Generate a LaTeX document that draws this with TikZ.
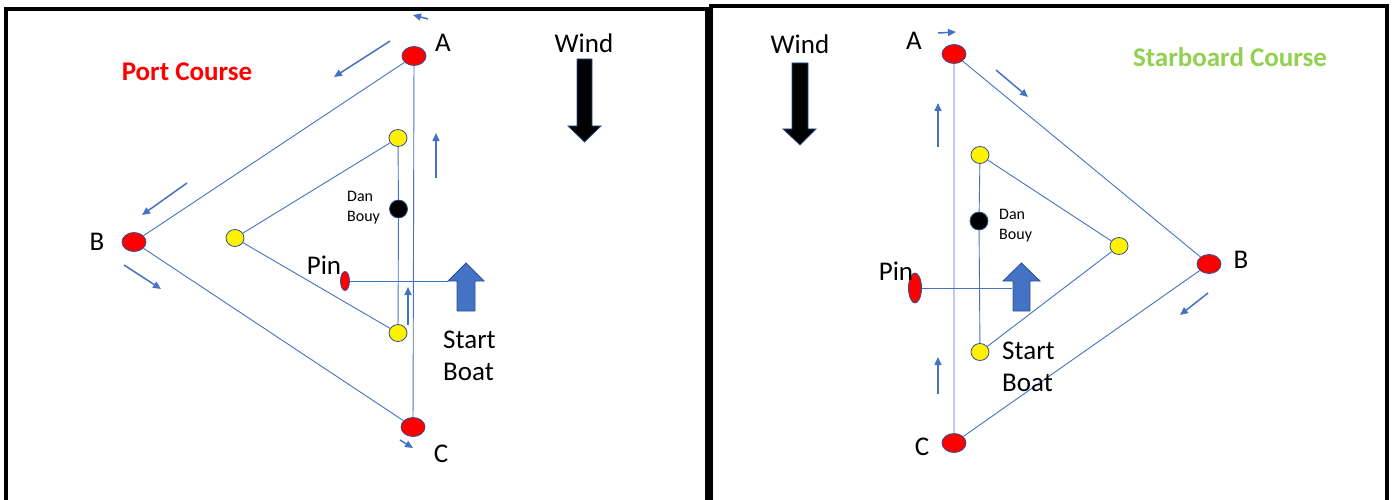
\documentclass[tikz,border=0pt]{standalone}
\usepackage{fontspec}
\setmainfont{Carlito}
\usetikzlibrary{shapes.geometric,arrows.meta}

\definecolor{lineblue}{HTML}{4472C4}
\definecolor{edgeblue}{HTML}{2F528F}
\definecolor{stbdgreen}{HTML}{92D050}

\begin{document}
\begin{tikzpicture}[x=1pt,y=-1pt,
      redbuoy/.style={ellipse,draw=edgeblue,fill=red,line width=0.8pt,minimum width=24pt,minimum height=19pt,inner sep=0pt},
      yellowbuoy/.style={ellipse,draw=edgeblue,fill=yellow,line width=0.8pt,minimum width=18pt,minimum height=17pt,inner sep=0pt},
      danbuoy/.style={circle,draw=edgeblue,fill=black,line width=0.8pt,minimum size=18pt,inner sep=0pt},
      pinbuoy/.style={ellipse,draw=edgeblue,fill=red,line width=0.8pt,inner sep=0pt},
      bigtext/.style={font=\fontsize{27}{32}\selectfont,inner sep=0pt,align=left},
      smalltext/.style={font=\fontsize{16}{20}\selectfont,inner sep=0pt,align=left},
      legline/.style={lineblue,line width=0.9pt},
      legarrow/.style={lineblue,line width=1.5pt,-{Triangle[length=8pt,width=7pt]}},
      panel/.style={line width=3.5pt},
      blockarrow/.style={line width=0.8pt,draw=edgeblue}]
    \useasboundingbox (0,0) rectangle (1394,500);
    \draw[panel] (6,505) -- (6,9) -- (707,9) -- (707,505);
    \draw[panel] (711,505) -- (711,6) -- (1387,6) -- (1387,505);

    % port course
    \node[redbuoy] (pA) at (414,56) {};
    \node[redbuoy] (pB) at (134,242) {};
    \node[redbuoy] (pC) at (413,427) {};
    \node[yellowbuoy] (pY1) at (398,138) {};
    \node[yellowbuoy] (pY2) at (235,238) {};
    \node[yellowbuoy] (pY3) at (398,333) {};
    \node[danbuoy] (pDan) at (398.5,209) {};
    \node[pinbuoy,minimum width=9pt,minimum height=19pt] (pPin) at (345,281) {};
    \coordinate (pBoat) at (448,281);
    \draw[legline] (pA) -- (pB) -- (pC) -- (pA);
    \draw[legline] (pY1) -- (pY2) -- (pY3) -- (pDan) -- (pY1);
    \draw[legline] (pPin) -- (pBoat);
    \filldraw[blockarrow,fill=lineblue] (457,311) -- (457,281) -- (448,281) -- (466,263) -- (484,281) -- (475,281) -- (475,311) -- cycle;
    \filldraw[blockarrow,fill=black] (577,59) -- (592,59) -- (592,126) -- (601,126) -- (584.5,142) -- (568,126) -- (577,126) -- cycle;
    \draw[legarrow] (428,19) -- (413,15);
    \draw[legarrow] (390,41) -- (334,77);
    \draw[legarrow] (187,183) -- (142,215);
    \draw[legarrow] (436,178) -- (436,133);
    \draw[legarrow] (124,265) -- (161,289);
    \draw[legarrow] (408,325) -- (408,287);
    \draw[legarrow] (400,440) -- (413,448);
    \node[bigtext] (pLabA) at (443,43) {A};
    \node[bigtext] (pLabB) at (97,242) {B};
    \node[bigtext] (pLabC) at (441,454) {C};
    \node[bigtext] (pWind) at (584,43) {Wind};
    \node[bigtext,font=\fontsize{27}{32}\selectfont\bfseries,text=red] (pTitle) at (187,72) {Port Course};
    \node[smalltext,anchor=west] (pDanText) at (347,208) {Dan\\Bouy};
    \node[bigtext] (pPinText) at (324,265) {Pin};
    \node[bigtext,anchor=west] (pBoatText) at (443,356) {Start\\Boat};

    % starboard course
    \node[redbuoy] (sA) at (954,54) {};
    \node[redbuoy] (sB) at (1209,264) {};
    \node[redbuoy] (sC) at (954,443) {};
    \node[yellowbuoy] (sY1) at (980,155) {};
    \node[yellowbuoy] (sY2) at (1119,246) {};
    \node[yellowbuoy] (sY3) at (980,352) {};
    \node[danbuoy] (sDan) at (979,221) {};
    \node[pinbuoy,minimum width=13pt,minimum height=30pt] (sPin) at (915,288) {};
    \coordinate (sBoat) at (1012,288);
    \draw[legline] (sA) -- (sB) -- (sC) -- (sA);
    \draw[legline] (sY1) -- (sY2) -- (sY3) -- (sDan) -- (sY1);
    \draw[legline] (sPin) -- (sBoat);
    \filldraw[blockarrow,fill=lineblue] (1013,311) -- (1013,281) -- (1003,281) -- (1021.5,263) -- (1040,281) -- (1030,281) -- (1030,311) -- cycle;
    \filldraw[blockarrow,fill=black] (792,63) -- (808,63) -- (808,129) -- (816,129) -- (800,145) -- (783,129) -- (792,129) -- cycle;
    \draw[legarrow] (938,33) -- (956,32);
    \draw[legarrow] (996,70) -- (1028,97);
    \draw[legarrow] (938,147) -- (938,103);
    \draw[legarrow] (1208,293) -- (1180,315);
    \draw[legarrow] (938,394) -- (938,357);
    \node[bigtext] (sLabA) at (914,41) {A};
    \node[bigtext] (sLabB) at (1241,260) {B};
    \node[bigtext] (sLabC) at (922,447) {C};
    \node[bigtext] (sWind) at (800,44) {Wind};
    \node[bigtext,font=\fontsize{27}{32}\selectfont\bfseries,text=stbdgreen] (sTitle) at (1230,57) {Starboard Course};
    \node[smalltext,anchor=west] (sDanText) at (999,226) {Dan\\Bouy};
    \node[bigtext] (sPinText) at (896,271) {Pin};
    \node[bigtext,anchor=west] (sBoatText) at (1002,367) {Start\\Boat};
  \end{tikzpicture}
\end{document}
